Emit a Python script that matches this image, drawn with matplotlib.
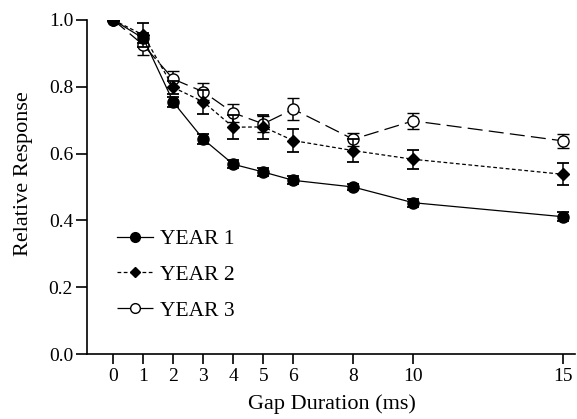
import matplotlib.pyplot as plt
plt.switch_backend('agg')
import numpy as np
from matplotlib.lines import Line2D

plt.rcParams['font.family'] = ['Liberation Serif', 'DejaVu Serif']

# gap duration (ms) and relative response per year
gap = [0, 1, 2, 3, 4, 5, 6, 8, 10, 15]
year1 = [1.0, 0.945, 0.754, 0.643, 0.568, 0.545, 0.520, 0.500, 0.453, 0.411]
year1_err = [0, 0.015, 0.015, 0.015, 0.012, 0.012, 0.012, 0.010, 0.012, 0.013]
year2 = [1.0, 0.955, 0.798, 0.755, 0.679, 0.680, 0.639, 0.609, 0.583, 0.538]
year2_err = [0, 0.035, 0.020, 0.035, 0.036, 0.035, 0.034, 0.035, 0.028, 0.033]
year3 = [1.0, 0.925, 0.823, 0.785, 0.722, 0.689, 0.733, 0.643, 0.698, 0.638]
year3_err = [0, 0.030, 0.025, 0.025, 0.026, 0.024, 0.033, 0.020, 0.025, 0.022]

xticks = [0, 1, 2, 3, 4, 5, 6, 8, 10, 15]
yticks = [0.0, 0.2, 0.4, 0.6, 0.8, 1.0]

fig = plt.figure(figsize=(5.77, 4.19), dpi=100)
ax = fig.add_axes([87/577, 65/419, (575-87)/577, (354-20)/419])

eb = dict(ecolor='black', elinewidth=1.1, capsize=4, capthick=1.3, color='black', lw=0.9)
sty3 = dict(marker='o', mfc='white', mec='black', mew=1.0, linestyle=(0, (12, 5)))
sty2 = dict(marker='D', mfc='black', mec='black', linestyle=(0, (3, 2)))
sty1 = dict(marker='o', mfc='black', mec='black', linestyle='-')

ax.errorbar(gap, year3, yerr=year3_err, ms=8, zorder=2, **sty3, **eb)
ax.errorbar(gap, year2, yerr=year2_err, ms=6.5, zorder=3, **sty2, **eb)
ax.errorbar(gap, year1, yerr=year1_err, ms=8, zorder=4, **sty1, **eb)

ax.set_xlim(-0.88, 15.4)
ax.set_ylim(0, 1.0)
ax.set_xticks(xticks)
ax.set_xticklabels([str(v) for v in xticks])
ax.set_yticks(yticks)
ax.set_yticklabels(['%.1f' % v for v in yticks])

for s in ['top', 'right']:
    ax.spines[s].set_visible(False)
for s in ['left', 'bottom']:
    ax.spines[s].set_linewidth(1.2)

ax.tick_params(axis='y', direction='out', length=8, width=1.2, labelsize=14, pad=2)
ax.tick_params(axis='x', direction='out', length=7, width=1.2, labelsize=14, pad=3)

ax.set_xlabel('Gap Duration (ms)', fontsize=16)
ax.set_ylabel('Relative Response', fontsize=16)
ax.xaxis.set_label_coords(0.502, -0.12)
ax.yaxis.set_label_coords(-0.11, 0.54)

# legend keys without error bars
handles = [Line2D([], [], color='black', lw=0.9, ms=7, **sty1),
           Line2D([], [], color='black', lw=0.9, ms=5.5, **sty2),
           Line2D([], [], color='black', lw=0.9, ms=7, **sty3)]
ax.legend(handles, ['YEAR 1', 'YEAR 2', 'YEAR 3'], loc='lower left',
          bbox_to_anchor=(0.061, 0.1), frameon=False, fontsize=15.5, handlelength=1.7,
          handletextpad=0.3, labelspacing=0.72, borderpad=0, borderaxespad=0)

fig.savefig('out.png', dpi=100)
